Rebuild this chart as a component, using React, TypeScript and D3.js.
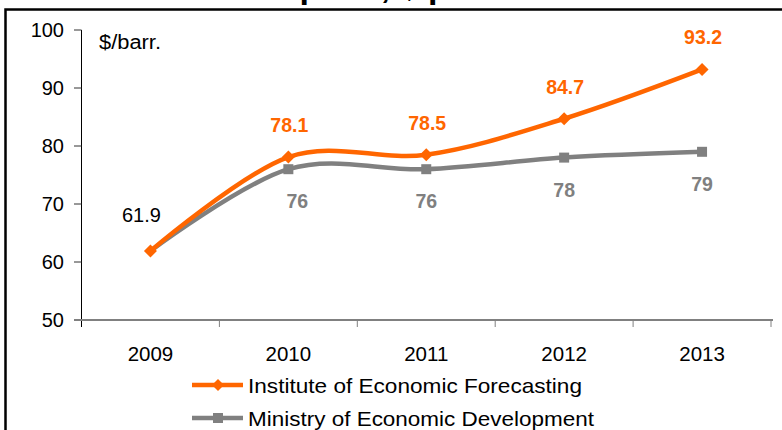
import React from "react";
import * as d3 from "d3";

const years = ["2009", "2010", "2011", "2012", "2013"];
const forecastIEF = [61.9, 78.1, 78.5, 84.7, 93.2];
const forecastMED = [61.9, 76, 76, 78, 79];
const yTicks = [50, 60, 70, 80, 90, 100];
const seriesNames = ["Institute of Economic Forecasting", "Ministry of Economic Development"];
const titleText = "Urals oil price, $ per barrel";
const unitText = "$/barr.";

const W = 782;
const H = 430;
const ORANGE = "#FF6600";
const GRAY = "#808080";
const FONT = "'Liberation Sans', Arial, sans-serif";

export default function App() {
  const left = 81.5;
  const right = 771;
  const top = 30;
  const bottom = 320;

  const x = d3.scaleBand<string>().domain(years).range([left, right]).padding(0);
  const y = d3.scaleLinear().domain([50, 100]).range([bottom, top]);
  const cx = (i: number) => (x(years[i]) as number) + x.bandwidth() / 2;

  const line = d3
    .line<number>()
    .x((_, i) => cx(i))
    .y((d) => y(d))
    .curve(d3.curveCardinal.tension(0));

  const boundaries = years.map((yr) => (x(yr) as number) + x.bandwidth());

  const diamond = (px: number, py: number, r: number) =>
    `M${px},${py - r}L${px + r},${py}L${px},${py + r}L${px - r},${py}Z`;

  return (
    <div style={{ position: "fixed", left: 0, top: 0, width: W, height: H, background: "#fff" }}>
      <svg width={W} height={H} style={{ display: "block" }} fontFamily={FONT}>
        <rect x={0} y={0} width={W} height={H} fill="#fff" />
        <text x={156} y={-2} fontSize={34} fontWeight="bold" fill="#000">
          {titleText}
        </text>
        <rect x={5.5} y={9.5} width={W + 20} height={H + 20} fill="#fff" stroke="#000" strokeWidth={2.5} />

        {/* y axis */}
        <line x1={left} x2={left} y1={top} y2={bottom + 7} stroke="#000" strokeWidth={1} />
        {yTicks.map((t) => (
          <g key={t}>
            <line x1={74} x2={left} y1={y(t)} y2={y(t)} stroke="#333" strokeWidth={1} />
            <text x={64} y={y(t)} dy="0.36em" textAnchor="end" fontSize={20} fill="#000">
              {t}
            </text>
          </g>
        ))}
        <text x={99} y={49} fontSize={20} fill="#000" textLength={62} lengthAdjust="spacingAndGlyphs">
          {unitText}
        </text>

        {/* x axis */}
        <line x1={74} x2={right + 2} y1={bottom} y2={bottom} stroke={GRAY} strokeWidth={2} />
        {boundaries.map((bx, i) => (
          <line key={i} x1={bx} x2={bx} y1={bottom} y2={bottom + 7} stroke={GRAY} strokeWidth={1} />
        ))}
        {years.map((yr, i) => (
          <text key={yr} x={cx(i)} y={361} textAnchor="middle" fontSize={20.5} fill="#000">
            {yr}
          </text>
        ))}

        {/* series */}
        <path d={line(forecastMED) || ""} fill="none" stroke={GRAY} strokeWidth={4.5} />
        {forecastMED.map((v, i) =>
          i === 0 ? null : (
            <rect key={i} x={cx(i) - 5} y={y(v) - 5} width={10} height={10} fill={GRAY} />
          )
        )}
        <path d={line(forecastIEF) || ""} fill="none" stroke={ORANGE} strokeWidth={4.5} />
        {forecastIEF.map((v, i) => (
          <path key={i} d={diamond(cx(i), y(v), 6.5)} fill={ORANGE} />
        ))}

        {/* labels */}
        {forecastIEF.map((v, i) =>
          i === 0 ? (
            <text key={i} x={cx(i) - 9} y={y(v) - 29} textAnchor="middle" fontSize={20} fill="#000">
              {v.toFixed(1)}
            </text>
          ) : (
            <text key={i} x={cx(i) + 1} y={y(v) - 25} textAnchor="middle" fontSize={19.5} fontWeight="bold" fill={ORANGE}>
              {v.toFixed(1)}
            </text>
          )
        )}
        {forecastMED.map((v, i) =>
          i === 0 ? null : (
            <text key={i} x={cx(i) + (i === 1 ? 9 : 0)} y={y(v) + 39} textAnchor="middle" fontSize={19.5} fontWeight="bold" fill={GRAY}>
              {String(v)}
            </text>
          )
        )}

        {/* legend */}
        <line x1={192} x2={243} y1={385} y2={385} stroke={ORANGE} strokeWidth={4.5} />
        <path d={diamond(218, 385, 6)} fill={ORANGE} />
        <text x={248} y={392.5} fontSize={21} fill="#000" textLength={334} lengthAdjust="spacingAndGlyphs">
          {seriesNames[0]}
        </text>
        <line x1={192} x2={243} y1={418} y2={418} stroke={GRAY} strokeWidth={4.5} />
        <rect x={213} y={413} width={10} height={10} fill={GRAY} />
        <text x={248} y={425.5} fontSize={21} fill="#000" textLength={346} lengthAdjust="spacingAndGlyphs">
          {seriesNames[1]}
        </text>
      </svg>
    </div>
  );
}
